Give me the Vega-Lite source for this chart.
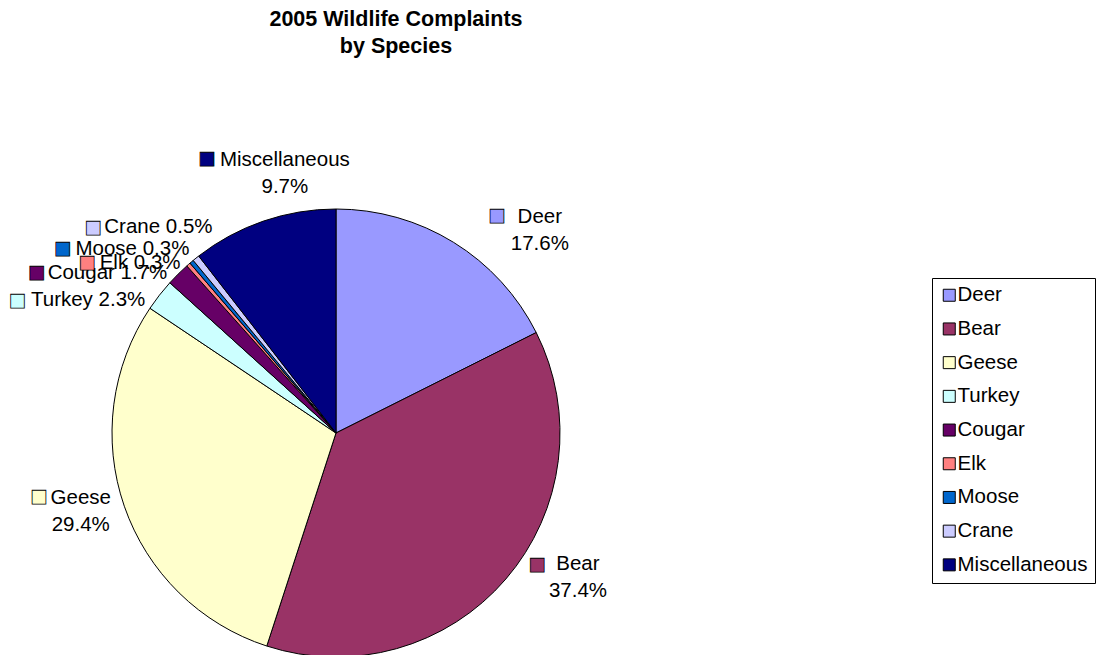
{
  "$schema": "https://vega.github.io/schema/vega-lite/v6.json",
  "width": 672,
  "height": 726,
  "autosize": "none",
  "padding": {"left": 0, "top": 70, "right": 424, "bottom": 0},
  "background": "white",
  "title": {
    "text": ["2005 Wildlife Complaints", "by Species"],
    "font": "Liberation Sans",
    "fontSize": 21.5,
    "fontWeight": "bold",
    "color": "#000000",
    "anchor": "middle",
    "frame": "group",
    "dx": 60,
    "offset": 13,
    "lineHeight": 27
  },
  "data": {
    "values": [
      {"idx": 1, "species": "Deer", "value": 17.6, "label": "Deer\n17.6%"},
      {"idx": 2, "species": "Bear", "value": 37.4, "label": "Bear\n37.4%"},
      {"idx": 3, "species": "Geese", "value": 29.4, "label": "Geese\n29.4%"},
      {"idx": 4, "species": "Turkey", "value": 2.3, "label": "Turkey 2.3%"},
      {"idx": 5, "species": "Cougar", "value": 1.7, "label": "Cougar 1.7%"},
      {"idx": 6, "species": "Elk", "value": 0.3, "label": "Elk 0.3%"},
      {"idx": 7, "species": "Moose", "value": 0.3, "label": "Moose 0.3%"},
      {"idx": 8, "species": "Crane", "value": 0.5, "label": "Crane 0.5%"},
      {"idx": 9, "species": "Miscellaneous", "value": 10.5, "label": "Miscellaneous\n9.7%"}
    ]
  },
  "encoding": {
    "theta": {"field": "value", "type": "quantitative", "stack": true},
    "order": {"field": "idx", "type": "quantitative"}
  },
  "layer": [
    {
      "mark": {"type": "arc", "outerRadius": 224, "stroke": "#000000", "strokeWidth": 1},
      "encoding": {
        "color": {
          "field": "species",
          "type": "nominal",
          "sort": ["Deer", "Bear", "Geese", "Turkey", "Cougar", "Elk", "Moose", "Crane", "Miscellaneous"],
          "scale": {
            "domain": ["Deer", "Bear", "Geese", "Turkey", "Cougar", "Elk", "Moose", "Crane", "Miscellaneous"],
            "range": ["#9999FF", "#993366", "#FFFFCC", "#CCFFFF", "#660066", "#FF8080", "#0066CC", "#CCCCFF", "#000080"]
          },
          "legend": {
            "title": null,
            "orient": "none",
            "legendX": 932,
            "legendY": 208,
            "symbolType": "square",
            "symbolSize": 144,
            "symbolStrokeColor": "#000000",
            "symbolStrokeWidth": 1,
            "symbolOpacity": 1,
            "labelFont": "Liberation Sans",
            "labelFontSize": 20.5,
            "labelColor": "#000000",
            "labelOffset": -2,
            "labelLimit": 0,
            "rowPadding": 12.7,
            "padding": 7,
            "strokeColor": "#000000",
            "fillColor": "#ffffff"
          }
        }
      }
    },
    {"mark": {"type": "text", "radius": 232, "dx": 82, "dy": -19, "font": "Liberation Sans", "fontSize": 20.5, "lineBreak": "\n", "lineHeight": 27, "align": "center", "baseline": "middle", "color": "#000000"},
     "encoding": {"text": {"condition": {"test": "datum.species === 'Deer'", "field": "label"}, "value": ""}}},
    {"mark": {"type": "text", "radius": 232, "dx": 66, "dy": -20, "font": "Liberation Sans", "fontSize": 20.5, "lineBreak": "\n", "lineHeight": 27, "align": "center", "baseline": "middle", "color": "#000000"},
     "encoding": {"text": {"condition": {"test": "datum.species === 'Bear'", "field": "label"}, "value": ""}}},
    {"mark": {"type": "text", "radius": 232, "dx": -36, "dy": -11, "font": "Liberation Sans", "fontSize": 20.5, "lineBreak": "\n", "lineHeight": 27, "align": "center", "baseline": "middle", "color": "#000000"},
     "encoding": {"text": {"condition": {"test": "datum.species === 'Geese'", "field": "label"}, "value": ""}}},
    {"mark": {"type": "text", "radius": 232, "dx": 24, "dy": -54, "font": "Liberation Sans", "fontSize": 20.5, "lineBreak": "\n", "lineHeight": 27, "align": "center", "baseline": "middle", "color": "#000000"},
     "encoding": {"text": {"condition": {"test": "datum.species === 'Miscellaneous'", "field": "label"}, "value": ""}}},
    {"mark": {"type": "text", "radius": 232, "dx": -65, "dy": 10, "font": "Liberation Sans", "fontSize": 20.5, "align": "center", "baseline": "middle", "color": "#000000"},
     "encoding": {"text": {"condition": {"test": "datum.species === 'Turkey'", "field": "label"}, "value": ""}}},
    {"mark": {"type": "text", "radius": 232, "dx": -65, "dy": 5, "font": "Liberation Sans", "fontSize": 20.5, "align": "center", "baseline": "middle", "color": "#000000"},
     "encoding": {"text": {"condition": {"test": "datum.species === 'Cougar'", "field": "label"}, "value": ""}}},
    {"mark": {"type": "text", "radius": 232, "dx": -43, "dy": 4.5, "font": "Liberation Sans", "fontSize": 20.5, "align": "center", "baseline": "middle", "color": "#000000"},
     "encoding": {"text": {"condition": {"test": "datum.species === 'Elk'", "field": "label"}, "value": ""}}},
    {"mark": {"type": "text", "radius": 232, "dx": -54, "dy": -6.6, "font": "Liberation Sans", "fontSize": 20.5, "align": "center", "baseline": "middle", "color": "#000000"},
     "encoding": {"text": {"condition": {"test": "datum.species === 'Moose'", "field": "label"}, "value": ""}}},
    {"mark": {"type": "text", "radius": 232, "dx": -32.5, "dy": -25, "font": "Liberation Sans", "fontSize": 20.5, "align": "center", "baseline": "middle", "color": "#000000"},
     "encoding": {"text": {"condition": {"test": "datum.species === 'Crane'", "field": "label"}, "value": ""}}},
    {"mark": {"type": "text", "radius": 232, "dx": 39, "dy": -20, "font": "DejaVu Sans", "fontSize": 18, "align": "center", "baseline": "middle", "stroke": "#000000", "strokeWidth": 0.8},
     "encoding": {"color": {"field": "species", "type": "nominal"}, "text": {"condition": {"test": "datum.species === 'Deer'", "value": "■"}, "value": ""}}},
    {"mark": {"type": "text", "radius": 232, "dx": 25, "dy": -19, "font": "DejaVu Sans", "fontSize": 18, "align": "center", "baseline": "middle", "stroke": "#000000", "strokeWidth": 0.8},
     "encoding": {"color": {"field": "species", "type": "nominal"}, "text": {"condition": {"test": "datum.species === 'Bear'", "value": "■"}, "value": ""}}},
    {"mark": {"type": "text", "radius": 232, "dx": -78, "dy": -12, "font": "DejaVu Sans", "fontSize": 18, "align": "center", "baseline": "middle", "stroke": "#000000", "strokeWidth": 0.8},
     "encoding": {"color": {"field": "species", "type": "nominal"}, "text": {"condition": {"test": "datum.species === 'Geese'", "value": "■"}, "value": ""}}},
    {"mark": {"type": "text", "radius": 232, "dx": -54, "dy": -54.5, "font": "DejaVu Sans", "fontSize": 18, "align": "center", "baseline": "middle", "stroke": "#000000", "strokeWidth": 0.8},
     "encoding": {"color": {"field": "species", "type": "nominal"}, "text": {"condition": {"test": "datum.species === 'Miscellaneous'", "value": "■"}, "value": ""}}},
    {"mark": {"type": "text", "radius": 232, "dx": -136, "dy": 11, "font": "DejaVu Sans", "fontSize": 18, "align": "center", "baseline": "middle", "stroke": "#000000", "strokeWidth": 0.8},
     "encoding": {"color": {"field": "species", "type": "nominal"}, "text": {"condition": {"test": "datum.species === 'Turkey'", "value": "■"}, "value": ""}}},
    {"mark": {"type": "text", "radius": 232, "dx": -136, "dy": 5, "font": "DejaVu Sans", "fontSize": 18, "align": "center", "baseline": "middle", "stroke": "#000000", "strokeWidth": 0.8},
     "encoding": {"color": {"field": "species", "type": "nominal"}, "text": {"condition": {"test": "datum.species === 'Cougar'", "value": "■"}, "value": ""}}},
    {"mark": {"type": "text", "radius": 232, "dx": -96, "dy": 4.5, "font": "DejaVu Sans", "fontSize": 18, "align": "center", "baseline": "middle", "stroke": "#000000", "strokeWidth": 0.8},
     "encoding": {"color": {"field": "species", "type": "nominal"}, "text": {"condition": {"test": "datum.species === 'Elk'", "value": "■"}, "value": ""}}},
    {"mark": {"type": "text", "radius": 232, "dx": -124, "dy": -6.6, "font": "DejaVu Sans", "fontSize": 18, "align": "center", "baseline": "middle", "stroke": "#000000", "strokeWidth": 0.8},
     "encoding": {"color": {"field": "species", "type": "nominal"}, "text": {"condition": {"test": "datum.species === 'Moose'", "value": "■"}, "value": ""}}},
    {"mark": {"type": "text", "radius": 232, "dx": -98, "dy": -24, "font": "DejaVu Sans", "fontSize": 18, "align": "center", "baseline": "middle", "stroke": "#000000", "strokeWidth": 0.8},
     "encoding": {"color": {"field": "species", "type": "nominal"}, "text": {"condition": {"test": "datum.species === 'Crane'", "value": "■"}, "value": ""}}}
  ],
  "config": {
    "view": {"stroke": null}
  }
}
